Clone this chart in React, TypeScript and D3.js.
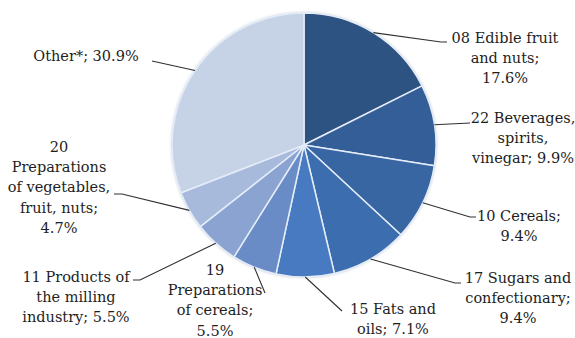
import React from "react";
import * as d3 from "d3";

const categories = [
  "08 Edible fruit and nuts",
  "22 Beverages, spirits, vinegar",
  "10 Cereals",
  "17 Sugars and confectionary",
  "15 Fats and oils",
  "19 Preparations of cereals",
  "11 Products of the milling industry",
  "20 Preparations of vegetables, fruit, nuts",
  "Other*",
];
const shares = [17.6, 9.9, 9.4, 9.4, 7.1, 5.5, 5.5, 4.7, 30.9];
const labelLines = [
  ["08 Edible fruit", "and nuts;", "{v}"],
  ["22 Beverages,", "spirits,", "vinegar; {v}"],
  ["10 Cereals;", "{v}"],
  ["17 Sugars and", "confectionary;", "{v}"],
  ["15 Fats and", "oils; {v}"],
  ["19", "Preparations", "of cereals;", "{v}"],
  ["11 Products of", "the milling", "industry; {v}"],
  ["20", "Preparations", "of vegetables,", "fruit, nuts;", "{v}"],
  ["Other*; {v}"],
];
const colors = [
  "#2D5383",
  "#345E97",
  "#3866A3",
  "#3C6DAE",
  "#477AC0",
  "#6A8CC6",
  "#8AA3D1",
  "#A7BADC",
  "#C6D2E6",
];

// layout: text centre x, first line centre y, leader elbow and end
const layout = [
  { cx: 505, y0: 38, elbow: [441, 42], end: [447, 42] },
  { cx: 523, y0: 118, elbow: [470, 123], end: [470, 123] },
  { cx: 519, y0: 216, elbow: [470, 217], end: [476, 217] },
  { cx: 518, y0: 278, elbow: [455, 283], end: [461, 283] },
  { cx: 393, y0: 309, elbow: [342, 311], end: [342, 311] },
  { cx: 215, y0: 270, elbow: [265, 293], end: [265, 293] },
  { cx: 76, y0: 277, elbow: [140, 280], end: [133, 280] },
  { cx: 59, y0: 147, elbow: [122, 194], end: [114, 194] },
  { cx: 86, y0: 56, elbow: [152, 61], end: [152, 61] },
];

const W = 575;
const H = 338;
const CX = 304;
const CY = 145;
const R = 132;
const LINE_H = 20.2;

export default function App() {
  const pie = d3.pie<number>().sort(null).value((d) => d);
  const arcs = pie(shares);
  const arc = d3.arc<d3.PieArcDatum<number>>().innerRadius(0).outerRadius(R);
  const edge = d3.arc<d3.PieArcDatum<number>>().innerRadius(R).outerRadius(R);
  const fmt = (v: number) => d3.format(".1f")(v) + "%";

  return (
    <svg
      width={W}
      height={H}
      style={{ position: "absolute", left: 0, top: 0, background: "#fff" }}
      fontFamily="'DejaVu Serif', serif"
    >
      <defs>
        <filter id="soft" x="-10%" y="-10%" width="120%" height="120%">
          <feGaussianBlur stdDeviation="1.6" />
        </filter>
      </defs>
      <rect width={W} height={H} fill="#fff" />
      <g transform={`translate(${CX},${CY})`}>
        <circle r={R + 0.5} fill="#9aa6b8" filter="url(#soft)" opacity={0.6} />
        {arcs.map((a, i) => (
          <path
            key={categories[i]}
            d={arc(a) || ""}
            fill={colors[i]}
            stroke="#e4ecf8"
            strokeWidth={1.5}
            strokeLinejoin="round"
          />
        ))}
      </g>
      {arcs.map((a, i) => {
        const [sx, sy] = edge.centroid(a);
        const L = layout[i];
        const pts = [
          [CX + sx, CY + sy],
          L.elbow,
          L.end,
        ];
        return (
          <polyline
            key={"l" + i}
            points={pts.map((p) => p.join(",")).join(" ")}
            fill="none"
            stroke="#303030"
            strokeWidth={1.1}
          />
        );
      })}
      {labelLines.map((lines, i) => {
        const L = layout[i];
        return (
          <text
            key={"t" + i}
            textAnchor="middle"
            fontSize={14.5}
            fill="#1e1e1e"
          >
            {lines.map((ln, j) => (
              <tspan key={j} x={L.cx} y={L.y0 + j * LINE_H + 5}>
                {ln.replace("{v}", fmt(shares[i]))}
              </tspan>
            ))}
          </text>
        );
      })}
    </svg>
  );
}
